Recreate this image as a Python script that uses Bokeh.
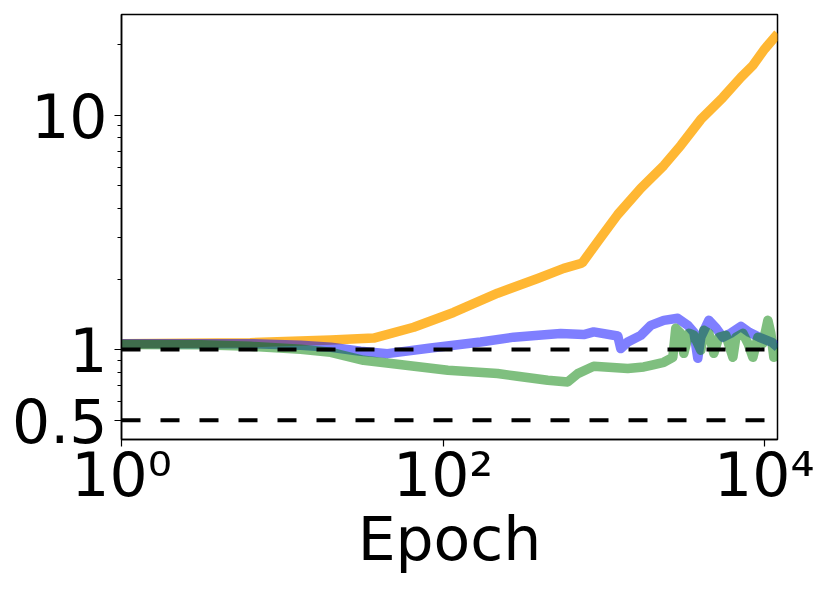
from bokeh.plotting import figure
from bokeh.models import FixedTicker, Span, Range1d
from bokeh.embed import file_html
from bokeh.resources import INLINE

# ---- data ----
orange_x = [1, 6.3, 20, 37, 65.6, 116, 218, 387, 562, 717, 738, 955, 1218, 1693, 2353, 3003, 4000, 5480, 7100, 8420, 10000, 12050]
orange_y = [1.06, 1.07, 1.10, 1.12, 1.245, 1.44, 1.74, 2.01, 2.22, 2.33, 2.36, 3.01, 3.77, 4.87, 6.10, 7.43, 9.59, 11.9, 14.5, 16.3, 19.2, 22.3]

blue_x = [1, 6.3, 13, 20, 30.7, 45, 83.6, 171, 275, 447, 538, 748, 863, 1218, 1272, 1405, 1693,
          1954, 2353, 2875, 3321, 3621, 3830, 4000, 4487, 4990, 5480, 6140, 7100, 8000, 9240, 11080, 12050]
blue_y = [1.06, 1.06, 1.043, 1.023, 0.984, 0.961, 1.016, 1.077, 1.13, 1.16, 1.17, 1.159, 1.19, 1.143, 1.01, 1.077, 1.15,
          1.269, 1.333, 1.36, 1.269, 1.185, 0.918, 1.128, 1.333, 1.233, 1.128, 1.174, 1.257, 1.185, 1.128, 1.074, 1.023]

green_x = [1, 3.1, 6.3, 13, 20, 32, 52, 107, 218, 290, 447, 595, 687, 863, 1405, 1767,
           1954, 2353, 2679, 2794, 3003, 3135, 3371, 3621, 4000, 4178, 4487, 4818, 5175, 5725, 6330, 6610,
           7310, 7850, 8430, 9050, 9730, 10450, 10900, 11380, 12050]
green_y = [1.052, 1.048, 1.033, 1.003, 0.974, 0.90, 0.866, 0.816, 0.79, 0.77, 0.74, 0.728, 0.79, 0.849, 0.83, 0.843,
           0.857, 0.883, 0.927, 1.233, 1.174, 0.964, 1.174, 1.151, 0.993, 1.209, 1.174, 0.964, 1.128, 1.151, 0.927, 1.128,
           1.174, 1.064, 0.927, 1.128, 1.064, 1.333, 1.174, 0.927, 1.064]

ref_levels = [1.0, 0.5]

x_ticks = [1, 100, 10000]
x_tick_labels = ["10⁰", "10²", "10⁴"]
y_ticks = [0.5, 1, 10]
y_tick_labels = ["0.5", "1", "10"]
y_minor = [0.5, 0.6, 0.7, 0.8, 0.9, 2, 3, 4, 5, 6, 7, 8, 9, 20]

FONT = "DejaVu Sans"

p = figure(width=814, height=578, x_axis_type="log", y_axis_type="log",
           x_range=Range1d(1, 11990), y_range=Range1d(0.4134, 26.9),
           output_backend="svg", toolbar_location=None,
           min_border_left=121, min_border_right=37, min_border_top=14, min_border_bottom=139)

p.background_fill_color = "white"
p.border_fill_color = "white"
p.outline_line_color = "black"
p.outline_line_width = 1.5
p.grid.visible = False

p.line(orange_x, orange_y, line_color="orange", line_alpha=0.8, line_width=9.5, line_join="round")
p.line(blue_x, blue_y, line_color="blue", line_alpha=0.5, line_width=9.5, line_join="round")
p.line(green_x, green_y, line_color="green", line_alpha=0.5, line_width=9.5, line_join="round")

for lv in ref_levels:
    p.add_layout(Span(location=lv, dimension="width", line_color="black",
                      line_width=4, line_dash="19 20"))

xa = p.xaxis[0]
xa.ticker = FixedTicker(ticks=x_ticks, minor_ticks=[])
xa.major_label_overrides = dict(zip(x_ticks, x_tick_labels))
ya = p.yaxis[0]
ya.ticker = FixedTicker(ticks=y_ticks, minor_ticks=y_minor)
ya.major_label_overrides = dict(zip(y_ticks, y_tick_labels))

for ax in (xa, ya):
    ax.axis_line_color = "black"
    ax.axis_line_width = 1.5
    ax.major_tick_line_color = "black"
    ax.minor_tick_line_color = "black"
    ax.major_tick_line_width = 1.2
    ax.minor_tick_line_width = 1
    ax.major_tick_in = 0
    ax.major_tick_out = 7
    ax.minor_tick_in = 0
    ax.minor_tick_out = 4
    ax.major_label_text_font = FONT
    ax.major_label_text_font_size = "60px"
    ax.major_label_text_color = "black"
    ax.major_label_text_line_height = 1.0

ya.major_label_standoff = 7
xa.major_label_standoff = -7
xa.axis_label = "Epoch"
xa.axis_label_text_font = FONT
xa.axis_label_text_font_size = "60px"
xa.axis_label_text_font_style = "normal"
xa.axis_label_text_color = "black"
xa.axis_label_text_line_height = 1.0
xa.axis_label_standoff = -9

open("out.html", "w").write(file_html(p, INLINE))
